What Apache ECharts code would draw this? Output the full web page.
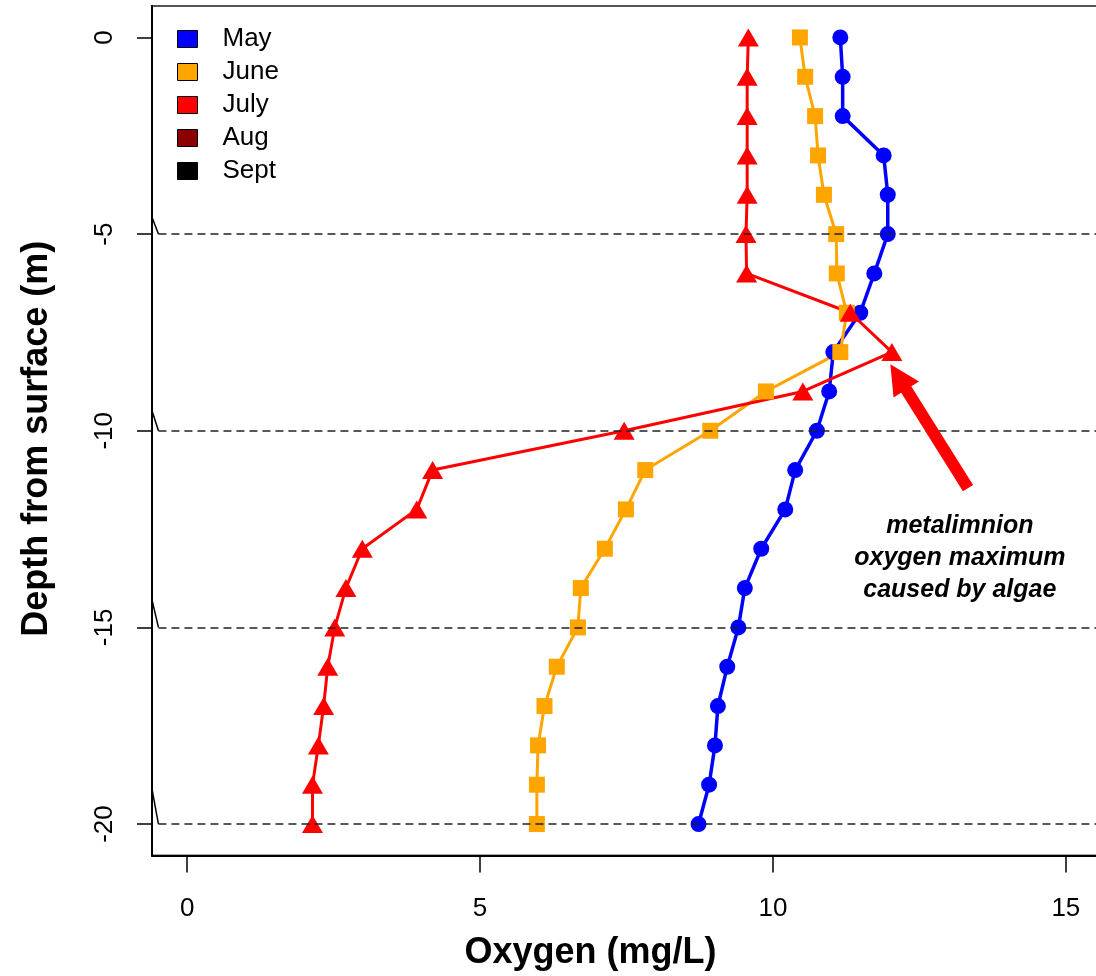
<!DOCTYPE html>
<html>
<head>
<meta charset="utf-8">
<script src="https://cdn.jsdelivr.net/npm/echarts@6/dist/echarts.min.js"></script>
<style>
  html, body { margin: 0; padding: 0; background: #fff; }
  #chart { width: 1096px; height: 976px; }
</style>
</head>
<body>
<div id="chart"></div>
<script>
var chart = echarts.init(document.getElementById('chart'));
var option;

// depth below surface (m)
const depths = [0, -1, -2, -3, -4, -5, -6, -7, -8, -9, -10, -11, -12, -13, -14, -15, -16, -17, -18, -19, -20];
// oxygen (mg/L) by month
const may = [11.15, 11.19, 11.19, 11.89, 11.96, 11.96, 11.73, 11.49, 11.03, 10.96, 10.75, 10.38, 10.21, 9.80, 9.52, 9.41, 9.22, 9.06, 9.01, 8.91, 8.73];
const june = [10.46, 10.55, 10.72, 10.77, 10.87, 11.08, 11.09, 11.26, 11.15, 9.88, 8.93, 7.82, 7.49, 7.13, 6.72, 6.67, 6.31, 6.10, 5.99, 5.97, 5.97];
const july = [9.58, 9.56, 9.56, 9.56, 9.56, 9.54, 9.55, 11.32, 12.03, 10.51, 7.46, 4.19, 3.92, 2.99, 2.71, 2.52, 2.40, 2.33, 2.24, 2.14, 2.14];
const months = ['May', 'June', 'July', 'Aug', 'Sept'];
const colors = ['#0000ff', '#ffa500', '#ff0000', '#8b0000', '#000000'];

const xTicks = [0, 5, 10, 15];
const yTicks = [0, -5, -10, -15, -20];
const refDepths = [-5, -10, -15, -20];
const slantHeights = [0.43, 0.51, 0.7, 0.89];

// annotation
const arrowFrom = [13.33, -11.46];
const arrowTo = [12.14, -8.63];
const noteAt = [13.19, -13.24];
const noteText = 'metalimnion\noxygen maximum\ncaused by algae';

const font = 'Liberation Sans, Arial, sans-serif';

function pairs(xs) {
  return xs.map((x, i) => [x, depths[i]]);
}

const dashed = refDepths.map(d => [{ coord: [-0.49, d] }, { coord: [15.6, d] }]);
const slants = refDepths.map((d, i) => [{ coord: [-0.6, d + slantHeights[i]] }, { coord: [-0.49, d] }]);

option = {
  animation: false,
  backgroundColor: '#fff',
  textStyle: { fontFamily: font },
  grid: {
    left: 152, top: 6, width: 949, height: 849.5,
    outerBoundsMode: 'none',
    containLabel: false,
    show: true, borderColor: '#555', borderWidth: 2
  },
  legend: {
    orient: 'vertical',
    left: 172, top: 21,
    itemWidth: 20, itemHeight: 17, itemGap: 7,
    icon: 'rect',
    itemStyle: { borderColor: '#000', borderWidth: 1 },
    textStyle: { fontSize: 26, color: '#000', lineHeight: 26, padding: [0, 0, 0, 20], fontFamily: font },
    data: months
  },
  xAxis: {
    type: 'value',
    min: -0.6, max: 15.6,
    name: 'Oxygen (mg/L)',
    nameLocation: 'middle',
    nameGap: 80,
    nameTextStyle: { fontSize: 36, fontWeight: 'bold', color: '#000', fontFamily: font, padding: [0, 72, 0, 0] },
    splitLine: { show: false },
    axisLine: { show: true, onZero: false, lineStyle: { color: '#000', width: 2 } },
    axisTick: { show: true, length: 17, customValues: xTicks, lineStyle: { color: '#000', width: 1.5 } },
    axisLabel: { customValues: xTicks, fontSize: 26, color: '#000', margin: 40, fontFamily: font }
  },
  yAxis: {
    type: 'value',
    min: -20.8, max: 0.8,
    name: 'Depth from surface (m)',
    nameLocation: 'middle',
    nameGap: 97,
    nameTextStyle: { fontSize: 36, fontWeight: 'bold', color: '#000', fontFamily: font, padding: [0, 16, 0, 0] },
    splitLine: { show: false },
    axisLine: { show: true, onZero: false, lineStyle: { color: '#000', width: 2 } },
    axisTick: { show: true, length: 15, customValues: yTicks, lineStyle: { color: '#000', width: 1.5 } },
    axisLabel: { customValues: yTicks, rotate: 90, fontSize: 26, color: '#000', margin: 34, fontFamily: font }
  },
  series: [
    {
      name: 'May', type: 'line', data: pairs(may),
      color: colors[0],
      symbol: 'circle', symbolSize: 16,
      lineStyle: { width: 3.5 },
      markLine: {
        silent: true, symbol: 'none', label: { show: false },
        lineStyle: { color: '#222', type: [8, 5], width: 1.5 },
        data: dashed
      }
    },
    {
      name: 'June', type: 'line', data: pairs(june),
      color: colors[1],
      symbol: 'rect', symbolSize: 16,
      lineStyle: { width: 3 },
      markLine: {
        silent: true, symbol: 'none', label: { show: false },
        lineStyle: { color: '#000', type: 'solid', width: 1.5 },
        data: slants
      }
    },
    {
      name: 'July', type: 'line', data: pairs(july),
      color: colors[2],
      symbol: 'triangle', symbolSize: [21, 18],
      lineStyle: { width: 3 },
      markLine: {
        silent: true, label: { show: false },
        symbol: ['none', 'triangle'],
        symbolSize: [0, [30, 30]],
        lineStyle: { color: '#ff0000', type: 'solid', width: 12, cap: 'butt' },
        data: [[{ coord: arrowFrom, symbol: 'none' }, { coord: arrowTo, symbol: 'triangle', symbolSize: [30, 30] }]]
      },
      markPoint: {
        silent: true,
        symbol: 'rect', symbolSize: 1,
        itemStyle: { color: 'rgba(0,0,0,0)' },
        label: {
          show: true, position: 'inside', formatter: noteText,
          fontSize: 25, fontWeight: 'bold', fontStyle: 'italic',
          color: '#000', lineHeight: 32, align: 'center', fontFamily: font
        },
        data: [{ coord: noteAt }]
      }
    },
    { name: 'Aug', type: 'line', data: [], color: colors[3] },
    { name: 'Sept', type: 'line', data: [], color: colors[4] }
  ]
};

option && chart.setOption(option);
</script>
</body>
</html>
